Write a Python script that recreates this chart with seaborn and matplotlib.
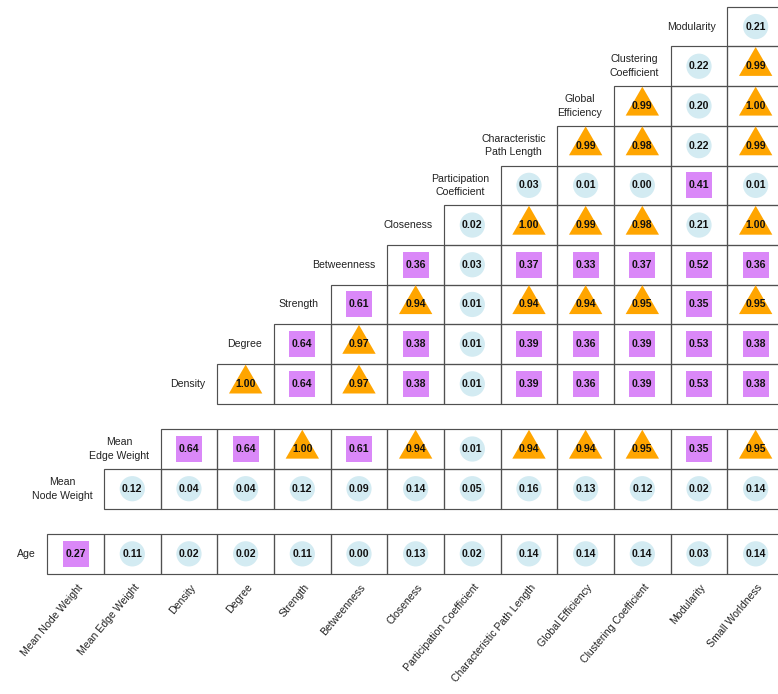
import numpy as np
import pandas as pd
import matplotlib
matplotlib.use("Agg")
import matplotlib.pyplot as plt
import seaborn as sns
from matplotlib.path import Path
from matplotlib.transforms import ScaledTranslation

# ---------------- data ----------------
columns = ["Mean Node Weight", "Mean Edge Weight", "Density", "Degree", "Strength",
           "Betweenness", "Closeness", "Participation Coefficient",
           "Characteristic Path Length", "Global Efficiency", "Clustering Coefficient",
           "Modularity", "Small Worldness"]

row_labels = ["Age", "Mean\nNode Weight", "Mean\nEdge Weight", "Density", "Degree",
              "Strength", "Betweenness", "Closeness", "Participation\nCoefficient",
              "Characteristic\nPath Length", "Global\nEfficiency",
              "Clustering\nCoefficient", "Modularity"]

age = [0.27, 0.11, 0.02, 0.02, 0.11, 0.00, 0.13, 0.02, 0.14, 0.14, 0.14, 0.03, 0.14]
mean_node_weight = [0.12, 0.04, 0.04, 0.12, 0.09, 0.14, 0.05, 0.16, 0.13, 0.12, 0.02, 0.14]
mean_edge_weight = [0.64, 0.64, 1.00, 0.61, 0.94, 0.01, 0.94, 0.94, 0.95, 0.35, 0.95]
density = [1.00, 0.64, 0.97, 0.38, 0.01, 0.39, 0.36, 0.39, 0.53, 0.38]
degree = [0.64, 0.97, 0.38, 0.01, 0.39, 0.36, 0.39, 0.53, 0.38]
strength = [0.61, 0.94, 0.01, 0.94, 0.94, 0.95, 0.35, 0.95]
betweenness = [0.36, 0.03, 0.37, 0.33, 0.37, 0.52, 0.36]
closeness = [0.02, 1.00, 0.99, 0.98, 0.21, 1.00]
participation_coefficient = [0.03, 0.01, 0.00, 0.41, 0.01]
characteristic_path_length = [0.99, 0.98, 0.22, 0.99]
global_efficiency = [0.99, 0.20, 1.00]
clustering_coefficient = [0.22, 0.99]
modularity = [0.21]

row_values = [age, mean_node_weight, mean_edge_weight, density, degree, strength,
              betweenness, closeness, participation_coefficient,
              characteristic_path_length, global_efficiency,
              clustering_coefficient, modularity]

# ---------------- layout ----------------
GAP = 0.641
gap_after = (0, 2)
row_bottom = []
yb = 0.0
for i in range(len(row_labels)):
    row_bottom.append(yb)
    yb += 1 + (GAP if i in gap_after else 0)
top = yb

def level(v):
    if v < 0.25:
        return "low"
    if v < 0.9:
        return "mid"
    return "high"

recs = []
for i, vals in enumerate(row_values):
    start = len(columns) - len(vals)
    for j, v in enumerate(vals):
        col = start + j
        recs.append(dict(row=i, col=col, x=col + 0.5, y=row_bottom[i] + 0.5,
                         value=v, level=level(v)))
df = pd.DataFrame(recs)

sns.set_theme(style="white")
plt.rcParams["font.family"] = ["Liberation Sans", "DejaVu Sans"]

W, H = 778, 694
fig = plt.figure(figsize=(W / 100, H / 100), dpi=100)
left_px, right_px = 47.3, 784.0
bottom_px, top_px = 573.7, 6.7
ax = fig.add_axes([left_px / W, (H - bottom_px) / H,
                   (right_px - left_px) / W, (bottom_px - top_px) / H])
ax.set_xlim(0, len(columns))
ax.set_ylim(0, top)

# cells
for _, r in df.iterrows():
    ax.add_patch(plt.Rectangle((r.col, row_bottom[int(r.row)]), 1, 1, fill=False,
                               edgecolor="#505050", lw=0.85, clip_on=False, zorder=1))

tri = Path([(0, 1), (-0.866, -0.5), (0.866, -0.5), (0, 1)],
           [Path.MOVETO, Path.LINETO, Path.LINETO, Path.CLOSEPOLY])
sns.scatterplot(data=df, x="x", y="y", hue="level", style="level", size="level",
                palette={"low": "#d3ebf2", "mid": "#da88f8", "high": "#ffa500"},
                markers={"low": "o", "mid": "s", "high": tri},
                sizes={"low": 330, "mid": 350, "high": 770},
                linewidth=0, legend=False, ax=ax, zorder=3)

for _, r in df.iterrows():
    ax.text(r.x, r.y, f"{r.value:.2f}", ha="center", va="center", fontsize=7.6,
            fontweight="bold", color="#111111", zorder=4)

# row labels
for i, lab in enumerate(row_labels):
    start = len(columns) - len(row_values[i])
    ax.annotate(lab, xy=(start, row_bottom[i] + 0.5), xytext=(-8.5, 0),
                textcoords="offset points", ha="right", va="center",
                multialignment="center", fontsize=7.6, linespacing=1.45,
                color="#222222", annotation_clip=False)

ax.set_xticks(np.arange(len(columns)) + 0.5)
ax.set_xticklabels(columns, rotation=50, ha="right", va="center",
                   rotation_mode="anchor", fontsize=7.6, color="#222222")
ax.tick_params(axis="x", length=0, pad=8.5)
for lbl in ax.get_xticklabels():
    lbl.set_transform(lbl.get_transform() + ScaledTranslation(0.05, 0, fig.dpi_scale_trans))
ax.set_yticks([])
ax.set_xlabel("")
ax.set_ylabel("")
for s in ax.spines.values():
    s.set_visible(False)
ax.patch.set_alpha(0)

fig.savefig("out.png", dpi=100)
